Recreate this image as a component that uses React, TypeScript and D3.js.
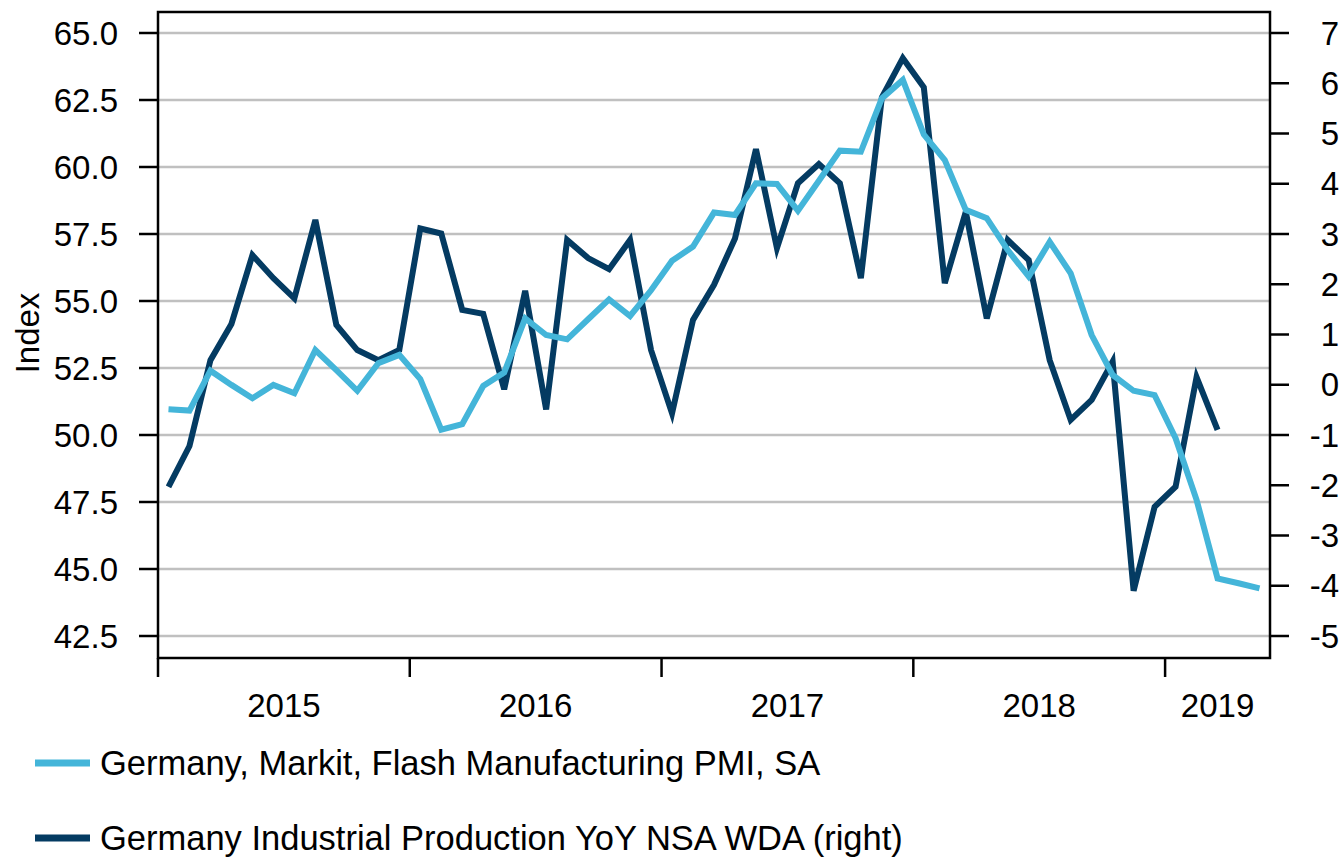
import React from "react";
import * as d3 from "d3";

const months: string[] = [
  "2015-01","2015-02","2015-03","2015-04","2015-05","2015-06","2015-07","2015-08","2015-09","2015-10","2015-11","2015-12",
  "2016-01","2016-02","2016-03","2016-04","2016-05","2016-06","2016-07","2016-08","2016-09","2016-10","2016-11","2016-12",
  "2017-01","2017-02","2017-03","2017-04","2017-05","2017-06","2017-07","2017-08","2017-09","2017-10","2017-11","2017-12",
  "2018-01","2018-02","2018-03","2018-04","2018-05","2018-06","2018-07","2018-08","2018-09","2018-10","2018-11","2018-12",
  "2019-01","2019-02","2019-03","2019-04","2019-05",
];

// Germany, Markit, Flash Manufacturing PMI, SA (left axis)
const pmi: number[] = [
  50.96, 50.91, 52.4, 51.87, 51.37, 51.87, 51.56, 53.17, 52.42, 51.65, 52.68, 52.99,
  52.09, 50.2, 50.4, 51.83, 52.33, 54.35, 53.73, 53.57, 54.32, 55.06, 54.44, 55.4,
  56.5, 57.03, 58.3, 58.21, 59.39, 59.37, 58.37, 59.49, 60.61, 60.57, 62.56, 63.25,
  61.21, 60.26, 58.4, 58.09, 56.9, 55.91, 57.21, 56.03, 53.73, 52.24, 51.65, 51.49,
  49.88, 47.58, 44.65, 44.47, 44.28,
];

// Germany Industrial Production YoY NSA WDA (right axis)
const ip: number[] = [
  -2.03, -1.22, 0.49, 1.21, 2.58, 2.12, 1.72, 3.28, 1.19, 0.69, 0.49, 0.69,
  3.11, 3.01, 1.49, 1.41, -0.09, 1.87, -0.49, 2.88, 2.52, 2.3, 2.88, 0.69,
  -0.57, 1.29, 1.99, 2.91, 4.69, 2.72, 4.01, 4.39, 4.01, 2.12, 5.72, 6.5,
  5.92, 2.02, 3.44, 1.32, 2.88, 2.48, 0.49, -0.7, -0.3, 0.46, -4.1, -2.43,
  -2.03, 0.15, -0.9,
];

const leftTicks: number[] = [42.5, 45, 47.5, 50, 52.5, 55, 57.5, 60, 62.5, 65];
const rightTicks: number[] = [-5, -4, -3, -2, -1, 0, 1, 2, 3, 4, 5, 6, 7];
const yearLabels: string[] = ["2015", "2016", "2017", "2018", "2019"];

const seriesNames = [
  "Germany, Markit, Flash Manufacturing PMI, SA",
  "Germany Industrial Production YoY NSA WDA (right)",
];
const LIGHT = "#44b5d9";
const DARK = "#043b62";
const FONT = "'Liberation Sans', Arial, sans-serif";
const FS = 33;
const LEGEND_FS = 34.5;

export default function App() {
  const W = 1341, H = 859;
  const left = 158, right = 1270, top = 12, bottom = 658;
  const x = d3.scaleLinear().domain([0, months.length]).range([left, right]);
  const yL = d3.scaleLinear().domain([42.5, 65]).range([636, 33]);
  const yR = d3.scaleLinear().domain([-5, 7]).range([636, 33]);

  const linePmi = d3.line<number>().x((_, i) => x(i + 0.5)).y((d) => yL(d));
  const lineIp = d3.line<number>().x((_, i) => x(i + 0.5)).y((d) => yR(d));

  // year boundaries: index of each January
  const yearStarts = yearLabels.map((yr) => months.indexOf(yr + "-01"));
  const yearMid = yearStarts.map((s, k) => {
    const e = k + 1 < yearStarts.length ? yearStarts[k + 1] : months.length;
    return (s + e) / 2;
  });

  return (
    <div style={{ position: "absolute", left: 0, top: 0 }}>
      <svg width={W} height={H} style={{ display: "block", background: "#fff" }} fontFamily={FONT}>
        {/* gridlines */}
        {leftTicks.map((v) => (
          <line key={"g" + v} x1={left} x2={right} y1={yL(v)} y2={yL(v)} stroke="#c0c0c0" strokeWidth={2.5} />
        ))}
        {/* frame */}
        <rect x={left} y={top} width={right - left} height={bottom - top} fill="none" stroke="#000" strokeWidth={2.5} />
        {/* left ticks */}
        {leftTicks.map((v) => (
          <g key={"l" + v}>
            <line x1={139} x2={left} y1={yL(v)} y2={yL(v)} stroke="#000" strokeWidth={2.5} />
            <text x={118} y={yL(v)} dy="0.35em" textAnchor="end" fontSize={FS} fill="#000">
              {d3.format(".1f")(v)}
            </text>
          </g>
        ))}
        {/* right ticks */}
        {rightTicks.map((v) => (
          <g key={"r" + v}>
            <line x1={right} x2={1289} y1={yR(v)} y2={yR(v)} stroke="#000" strokeWidth={2.5} />
            <text x={1339} y={yR(v)} dy="0.35em" textAnchor="end" fontSize={FS} fill="#000">
              {String(v)}
            </text>
          </g>
        ))}
        {/* x ticks */}
        {yearStarts.map((s) => (
          <line key={"xt" + s} x1={x(s)} x2={x(s)} y1={bottom} y2={677} stroke="#000" strokeWidth={2.5} />
        ))}
        {yearLabels.map((yr, k) => (
          <text key={"xl" + yr} x={x(yearMid[k])} y={705} dy="0.35em" textAnchor="middle" fontSize={FS} fill="#000">
            {yr}
          </text>
        ))}
        {/* axis title */}
        <text transform={`translate(27,333) rotate(-90)`} dy="0.35em" textAnchor="middle" fontSize={FS} fill="#000">
          Index
        </text>
        {/* series */}
        <path d={lineIp(ip) || ""} fill="none" stroke={DARK} strokeWidth={6} />
        <path d={linePmi(pmi) || ""} fill="none" stroke={LIGHT} strokeWidth={6} />
        {/* legend */}
        {[LIGHT, DARK].map((c, k) => (
          <g key={"lg" + k}>
            <line x1={35} x2={90} y1={763 + k * 75} y2={763 + k * 75} stroke={c} strokeWidth={7} />
            <text x={100} y={763 + k * 75} dy="0.35em" fontSize={LEGEND_FS} fill="#000">
              {seriesNames[k]}
            </text>
          </g>
        ))}
      </svg>
    </div>
  );
}
